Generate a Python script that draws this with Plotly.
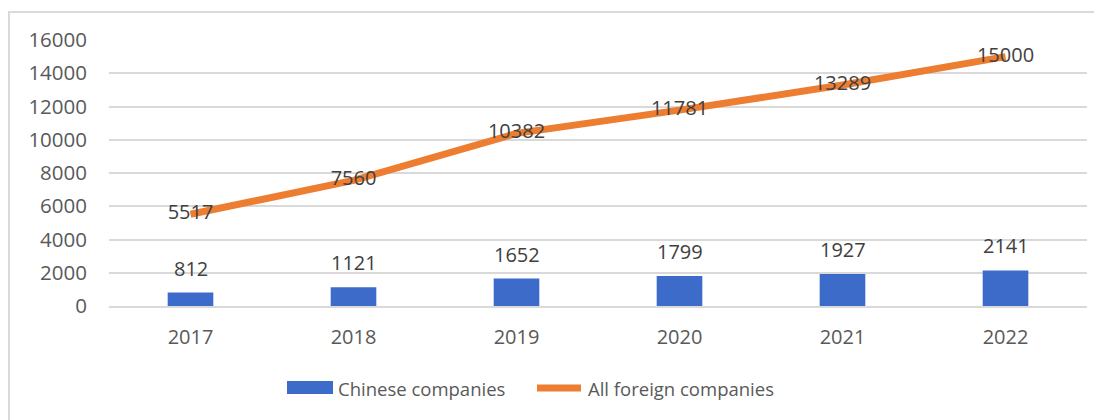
import plotly.graph_objects as go

years = ["2017", "2018", "2019", "2020", "2021", "2022"]
chinese = [812, 1121, 1652, 1799, 1927, 2141]
all_foreign = [5517, 7560, 10382, 11781, 13289, 15000]
series_names = ["Chinese companies", "All foreign companies"]

FONT = "Open Sans"
TEXT_GREY = "#595959"
LABEL_GREY = "#404040"
BLUE = "#3D6BC9"
ORANGE = "#ED7D31"
FRAME = "#D9D9D9"

# figure geometry (page body adds an 8px offset)
W, H = 1094, 412
L, R, T, B = 101, 15, 32, 114
PW, PH = W - L - R, H - T - B


def px_x(x):
    return (x - L) / PW


def px_y(y):
    return (H - B - y) / PH


fig = go.Figure()

fig.add_trace(
    go.Bar(
        x=years,
        y=chinese,
        name=series_names[0],
        width=0.28,
        marker=dict(color=BLUE, line=dict(width=0)),
    )
)

fig.add_trace(
    go.Scatter(
        x=years,
        y=all_foreign,
        name=series_names[1],
        mode="lines+text",
        text=[str(v) for v in all_foreign],
        textposition="middle center",
        textfont=dict(family=FONT, size=20, color=LABEL_GREY),
        line=dict(color=ORANGE, width=7),
    )
)

# labels sitting above the bars (x by category index)
for i, val in enumerate(chinese):
    fig.add_annotation(
        x=i, y=val, text=str(val), showarrow=False,
        yanchor="bottom", yshift=9,
        font=dict(family=FONT, size=20, color=LABEL_GREY),
    )

# light frame around the chart area
fig.add_shape(
    type="rect", xref="paper", yref="paper",
    x0=px_x(1), x1=px_x(W + 20), y0=px_y(H + 20), y1=px_y(4),
    line=dict(color=FRAME, width=2), fillcolor="rgba(0,0,0,0)",
    layer="below",
)

# hand-drawn legend: wide bar swatch and a thick line swatch like the original
fig.add_shape(
    type="rect", xref="paper", yref="paper",
    x0=px_x(279), x1=px_x(325), y0=px_y(386), y1=px_y(373),
    line=dict(width=0), fillcolor=BLUE,
)
fig.add_shape(
    type="line", xref="paper", yref="paper",
    x0=px_x(529), x1=px_x(573), y0=px_y(380), y1=px_y(380),
    line=dict(color=ORANGE, width=7),
)
fig.add_annotation(
    xref="paper", yref="paper", x=px_x(328), y=px_y(380),
    xanchor="left", yanchor="middle", showarrow=False,
    text=series_names[0], font=dict(family=FONT, size=18.5, color=TEXT_GREY),
)
fig.add_annotation(
    xref="paper", yref="paper", x=px_x(578), y=px_y(380),
    xanchor="left", yanchor="middle", showarrow=False,
    text=series_names[1], font=dict(family=FONT, size=18.5, color=TEXT_GREY),
)

fig.update_layout(
    width=W,
    height=H,
    margin=dict(l=L, r=R, t=T, b=B, autoexpand=False),
    paper_bgcolor="white",
    plot_bgcolor="white",
    font=dict(family=FONT, size=20, color=TEXT_GREY),
    showlegend=False,
)

fig.update_xaxes(
    type="category",
    range=[-0.5, 5.5],
    showgrid=False,
    showline=True, linecolor=FRAME, linewidth=2,
    ticks="", ticklabelstandoff=12,
    tickfont=dict(family=FONT, size=20, color=TEXT_GREY),
)

fig.update_yaxes(
    range=[0, 16000],
    dtick=2000,
    tickformat="d",
    showgrid=True, gridcolor=FRAME, gridwidth=2,
    zeroline=False, showline=False,
    ticks="", ticklabelstandoff=21,
    tickfont=dict(family=FONT, size=20.5, color=TEXT_GREY),
)

fig.write_html("out.html")
